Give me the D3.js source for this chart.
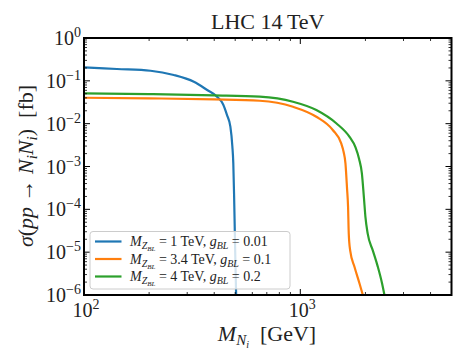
<!DOCTYPE html>
<html><head><meta charset="utf-8">
<script src="https://cdn.jsdelivr.net/npm/d3@7"></script>
<style>body{margin:0;background:#fff}svg{display:block}text{font-family:"Liberation Serif","DejaVu Serif",serif;fill:#222}</style>
</head><body><svg id="c" width="465" height="361"></svg>
<script>
// ---- data ----
const seriesNames = ["blue", "orange", "green"];
const massBlue = [100, 142, 203, 260, 322, 371, 412, 440, 458, 475, 485, 490, 494, 498, 501, 505];
const sigBlue  = [0.207, 0.189, 0.172, 0.137, 0.095, 0.061, 0.0427, 0.028, 0.016, 0.0085, 0.003, 1.2e-3, 2.3e-4, 3e-5, 6.5e-6, 1e-6];
const massOrange = [100, 200, 400, 649, 925, 1186, 1413, 1544, 1585, 1617, 1645, 1662, 1675, 1700, 1781, 1878, 1946];
const sigOrange  = [0.0403, 0.039, 0.037, 0.0343, 0.0248, 0.0145, 7.1e-3, 3.5e-3, 2.2e-3, 1.18e-3, 3e-4, 1.2e-4, 2.7e-5, 1.1e-5, 4.5e-6, 1.86e-6, 1e-6];
const massGreen = [100, 200, 400, 649, 925, 1186, 1466, 1689, 1800, 1870, 1926, 1967, 2000, 2049, 2163, 2281, 2388, 2449];
const sigGreen  = [0.051, 0.049, 0.046, 0.0427, 0.0325, 0.0208, 0.0102, 4.9e-3, 2.8e-3, 1.5e-3, 6.9e-4, 1.96e-4, 6.7e-5, 2.7e-5, 1.1e-5, 4.6e-6, 1.86e-6, 1e-6];
const legendMZ = ["1", "3.4", "4"];
const legendG = ["0.01", "0.1", "0.2"];
const xTickExp = [2, 3];
const yTickExp = [0, -1, -2, -3, -4, -5, -6];
const colors = ["#1f77b4", "#ff7f0e", "#2ca02c"];

const series = [
  {m: massBlue, s: sigBlue},
  {m: massOrange, s: sigOrange},
  {m: massGreen, s: sigGreen}
];

const svg = d3.select("#c");
const L = 84, R = 451.5, T = 38, B = 295;
const x = d3.scaleLog().domain([100, 5000]).range([L, R]);
const y = d3.scaleLog().domain([1e-6, 1]).range([B, T]);

svg.append("defs").append("clipPath").attr("id", "clip")
  .append("rect").attr("x", L).attr("y", T).attr("width", R - L).attr("height", B - T);

const line = d3.line().x(d => x(d[0])).y(d => y(d[1])).curve(d3.curveMonotoneX);
const g = svg.append("g").attr("clip-path", "url(#clip)");
series.forEach((sr, i) => {
  g.append("path").datum(sr.m.map((m, j) => [m, sr.s[j]]))
    .attr("d", line).attr("fill", "none").attr("stroke", colors[i]).attr("stroke-width", 2.2)
    .attr("stroke-linejoin", "round");
});

const tk = svg.append("g").attr("stroke", "#000");
const xMinor = [], yMinor = [];
for (let d = 100; d < 5000; d *= 10) for (let k = 2; k <= 9; k++) if (d * k <= 5000) xMinor.push(d * k);
for (let e = -6; e < 0; e++) for (let k = 2; k <= 9; k++) yMinor.push(k * Math.pow(10, e));
const xMajor = xTickExp.map(e => Math.pow(10, e));
const yMajor = yTickExp.map(e => Math.pow(10, e));
xMajor.forEach(v => { tk.append("line").attr("x1", x(v)).attr("x2", x(v)).attr("y1", B).attr("y2", B - 6).attr("stroke-width", 1);
  tk.append("line").attr("x1", x(v)).attr("x2", x(v)).attr("y1", T).attr("y2", T + 6).attr("stroke-width", 1); });
xMinor.forEach(v => { tk.append("line").attr("x1", x(v)).attr("x2", x(v)).attr("y1", B).attr("y2", B - 3).attr("stroke-width", 0.8);
  tk.append("line").attr("x1", x(v)).attr("x2", x(v)).attr("y1", T).attr("y2", T + 3).attr("stroke-width", 0.8); });
yMajor.forEach(v => { tk.append("line").attr("y1", y(v)).attr("y2", y(v)).attr("x1", L).attr("x2", L + 6).attr("stroke-width", 1);
  tk.append("line").attr("y1", y(v)).attr("y2", y(v)).attr("x1", R).attr("x2", R - 6).attr("stroke-width", 1); });
yMinor.forEach(v => { tk.append("line").attr("y1", y(v)).attr("y2", y(v)).attr("x1", L).attr("x2", L + 3).attr("stroke-width", 0.8);
  tk.append("line").attr("y1", y(v)).attr("y2", y(v)).attr("x1", R).attr("x2", R - 3).attr("stroke-width", 0.8); });

svg.append("rect").attr("x", L).attr("y", T).attr("width", R - L).attr("height", B - T)
  .attr("fill", "none").attr("stroke", "#000").attr("stroke-width", 2);

function powLabel(sel, e, anchor) {
  const t = sel.append("text").attr("font-size", 20).attr("text-anchor", anchor);
  t.append("tspan").text("10");
  t.append("tspan").attr("dy", -8).attr("font-size", 14).text(e < 0 ? "\u2212" + (-e) : String(e));
  return t;
}
yTickExp.forEach(e => powLabel(svg, e, "end").attr("x", 81).attr("y", y(Math.pow(10, e)) + 7));
xTickExp.forEach(e => powLabel(svg, e, "middle").attr("x", x(Math.pow(10, e)) + 2).attr("y", 317));

svg.append("text").attr("x", (L + R) / 2).attr("y", 29).attr("text-anchor", "middle").attr("font-size", 22).text("LHC 14\u2009TeV");

const xl = svg.append("text").attr("x", 267).attr("y", 341).attr("text-anchor", "middle").attr("font-size", 22);
xl.append("tspan").attr("font-style", "italic").text("M");
xl.append("tspan").attr("font-style", "italic").attr("font-size", 15).attr("dy", 4).text("N");
xl.append("tspan").attr("font-style", "italic").attr("font-size", 10).attr("dy", 3).text("i");
xl.append("tspan").attr("dy", -7).text("\u2002[GeV]");

const yl = svg.append("text").attr("transform", "translate(33,166) rotate(-90)").attr("text-anchor", "middle").attr("font-size", 22);
yl.append("tspan").attr("font-style", "italic").text("\u03c3");
yl.append("tspan").text("(");
yl.append("tspan").attr("font-style", "italic").text("pp");
yl.append("tspan").text(" \u2192 ");
yl.append("tspan").attr("font-style", "italic").text("N");
yl.append("tspan").attr("font-style", "italic").attr("font-size", 15).attr("dy", 4).text("i");
yl.append("tspan").attr("font-style", "italic").attr("dy", -4).text("N");
yl.append("tspan").attr("font-style", "italic").attr("font-size", 15).attr("dy", 4).text("i");
yl.append("tspan").attr("dy", -4).text(")\u2002[fb]");

const lg = svg.append("g");
lg.append("rect").attr("x", 90).attr("y", 231.5).attr("width", 200).attr("height", 57.5).attr("rx", 3)
  .attr("fill", "#fff").attr("fill-opacity", 0.8).attr("stroke", "#ccc").attr("stroke-width", 1);
const ly = [241.5, 259, 276.5];
seriesNames.forEach((nm, i) => {
  lg.append("line").attr("x1", 95).attr("x2", 121.5).attr("y1", ly[i]).attr("y2", ly[i])
    .attr("stroke", colors[i]).attr("stroke-width", 2.2);
  const t = lg.append("text").attr("x", 130).attr("y", ly[i] + 4.5).attr("font-size", 14);
  t.append("tspan").attr("font-style", "italic").text("M");
  t.append("tspan").attr("font-style", "italic").attr("font-size", 10).attr("dy", 3).text("Z");
  t.append("tspan").attr("font-style", "italic").attr("font-size", 7).attr("dy", 2).text("BL");
  t.append("tspan").attr("dy", -5).text(" = " + legendMZ[i] + " TeV, ");
  t.append("tspan").attr("font-style", "italic").text("g");
  t.append("tspan").attr("font-style", "italic").attr("font-size", 10).attr("dy", 3).text("BL");
  t.append("tspan").attr("dy", -3).text(" = " + legendG[i]);
});
</script></body></html>
